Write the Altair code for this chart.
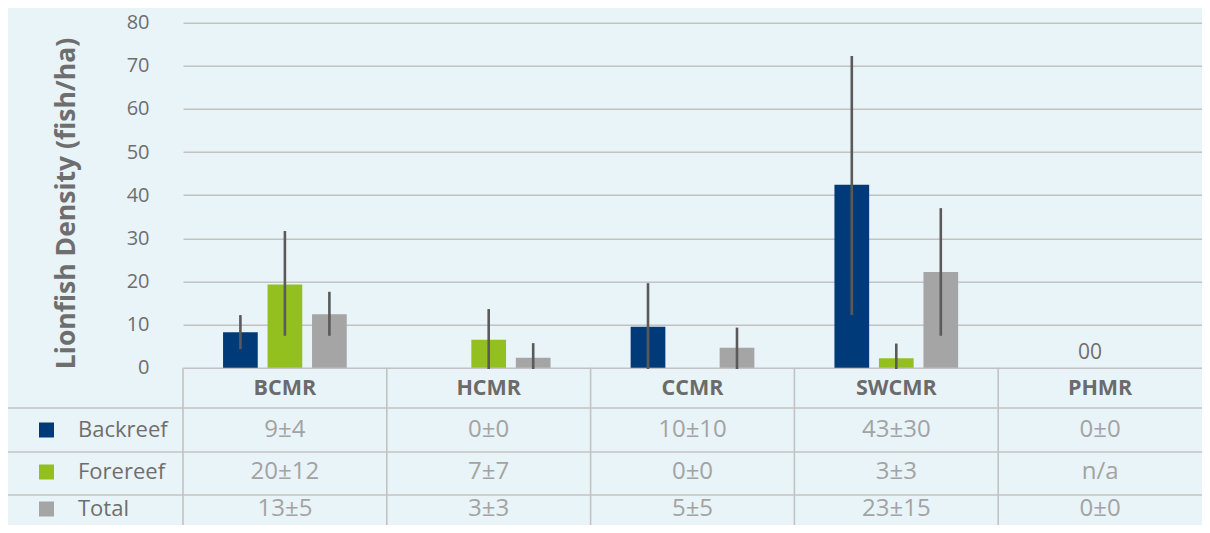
import altair as alt
import pandas as pd

# ---------------- data ----------------
categories = ["BCMR", "HCMR", "CCMR", "SWCMR", "PHMR"]
series = ["Backreef", "Forereef", "Total"]
series_colors = ["#003a78", "#93c01f", "#a5a5a5"]

backreef_mean = [8.2, 0.0, 9.5, 42.4, 0.0]
backreef_lo = [4.3, 0.0, -0.3, 12.2, 0.0]
backreef_hi = [12.2, 0.0, 19.6, 72.3, 0.0]

forereef_mean = [19.3, 6.5, 0.0, 2.2, None]
forereef_lo = [7.4, -0.3, 0.0, -0.3, None]
forereef_hi = [31.7, 13.6, 0.0, 5.6, None]

total_mean = [12.4, 2.3, 4.6, 22.2, 0.0]
total_lo = [7.4, -0.3, -0.3, 7.4, 0.0]
total_hi = [17.6, 5.7, 9.3, 37.0, 0.0]

table_backreef = ["9±4", "0±0", "10±10", "43±30", "0±0"]
table_forereef = ["20±12", "7±7", "0±0", "3±3", "n/a"]
table_total = ["13±5", "3±3", "5±5", "23±15", "0±0"]

y_ticks = [0, 10, 20, 30, 40, 50, 60, 70, 80]
phmr_label = "00"
y_title = "Lionfish Density (fish/ha)"

# ---------------- layout ----------------
PAGE_MARGIN = 8
PLOT_LEFT = 183          # screen x of plot left edge
PLOT_RIGHT = 1202
Y80_PX = 22.7            # screen y of value 80
Y0_PX = 367.7            # screen y of value 0
BOTTOM_PX = 525.0        # screen y of chart bottom
PX_PER_UNIT = (Y0_PX - Y80_PX) / 80.0
W = PLOT_RIGHT - PLOT_LEFT
H = BOTTOM_PX - Y80_PX


def val(py):
    return (Y0_PX - py) / PX_PER_UNIT


Y_MIN = val(BOTTOM_PX)
header_y = val(389)
row_y = [val(430), val(472), val(509)]
row_lines = [val(408), val(452), val(495)]

TEXT_GRAY = "#6e6e6e"
VALUE_GRAY = "#a3a3a3"
LINE_GRAY = "#c2c2c2"
FONT = "Open Sans"

# ---------------- frames ----------------
rows = []
for s, m, lo, hi in zip(series,
                        [backreef_mean, forereef_mean, total_mean],
                        [backreef_lo, forereef_lo, total_lo],
                        [backreef_hi, forereef_hi, total_hi]):
    for c, mv, l, h in zip(categories, m, lo, hi):
        if mv is None:
            continue
        rows.append({"cat": c, "series": s, "mean": mv, "lo": l, "hi": h})
df = pd.DataFrame(rows)

tab_rows = []
for ry, vals in zip(row_y, [table_backreef, table_forereef, table_total]):
    for c, v in zip(categories, vals):
        tab_rows.append({"cat": c, "ty": ry, "label": v})
tab_df = pd.DataFrame(tab_rows)

head_df = pd.DataFrame({"cat": categories, "ty": [header_y] * len(categories)})
leg_df = pd.DataFrame({"series": series, "ty": row_y})
hline_df = pd.DataFrame({"ly": row_lines})
vline_df = pd.DataFrame({"cat": categories})
phmr_df = pd.DataFrame({"cat": ["PHMR"], "v": [0.0], "label": [phmr_label]})

xscale = alt.Scale(domain=categories, paddingInner=0, paddingOuter=0)
xoff_scale = alt.Scale(domain=series, paddingInner=0.22, paddingOuter=0.9)
yscale = alt.Scale(domain=[Y_MIN, 80], nice=False, zero=False)
cscale = alt.Scale(domain=series, range=series_colors)

yaxis = alt.Axis(
    values=y_ticks, grid=True, gridColor=LINE_GRAY, gridWidth=1.6,
    domain=False, ticks=False, tickSize=0, labelPadding=34,
    labelFontSize=20, labelColor=TEXT_GRAY, labelFont=FONT,
    title=y_title, titleFontSize=26.5, titleFontWeight="bold",
    titleColor=TEXT_GRAY, titleFont=FONT, titleAngle=270,
    titleX=66 - PLOT_LEFT, titleY=203 - Y80_PX,
    titleAlign="center", titleBaseline="middle",
)

base_x = alt.X("cat:N", sort=categories, scale=xscale, axis=None)

bars = alt.Chart(df).mark_bar().encode(
    x=base_x,
    xOffset=alt.XOffset("series:N", sort=series, scale=xoff_scale),
    y=alt.Y("mean:Q", scale=yscale, axis=yaxis),
    color=alt.Color("series:N", scale=cscale, legend=None),
)

err = alt.Chart(df).mark_rule(color="#5a5a5a", strokeWidth=2.6).encode(
    x=base_x,
    xOffset=alt.XOffset("series:N", sort=series, scale=xoff_scale),
    y=alt.Y("lo:Q", scale=yscale),
    y2="hi:Q",
)

vlines = alt.Chart(vline_df).mark_rule(color=LINE_GRAY, strokeWidth=1.6).encode(
    x=alt.X("cat:N", sort=categories, scale=xscale, axis=None, bandPosition=0),
    y=alt.datum(0),
    y2=alt.value(H),
)

hlines = alt.Chart(hline_df).mark_rule(color=LINE_GRAY, strokeWidth=1.6).encode(
    y=alt.Y("ly:Q", scale=yscale),
    x=alt.value(7 - PLOT_LEFT),
    x2=alt.value(W),
)

header = alt.Chart(head_df).mark_text(
    font=FONT, fontSize=21.5, fontWeight="bold", color="#6b6b6b", baseline="middle"
).encode(
    x=base_x,
    y=alt.Y("ty:Q", scale=yscale),
    text="cat:N",
)

values = alt.Chart(tab_df).mark_text(
    font=FONT, fontSize=24, color=VALUE_GRAY, baseline="middle"
).encode(
    x=base_x,
    y=alt.Y("ty:Q", scale=yscale),
    text="label:N",
)

leg_sq = alt.Chart(leg_df).mark_square(size=225, opacity=1).encode(
    x=alt.value(46.5 - PLOT_LEFT),
    y=alt.Y("ty:Q", scale=yscale),
    color=alt.Color("series:N", scale=cscale, legend=None),
)

leg_txt = alt.Chart(leg_df).mark_text(
    font=FONT, fontSize=22, color=TEXT_GRAY, align="left", baseline="middle"
).encode(
    x=alt.value(78 - PLOT_LEFT),
    y=alt.Y("ty:Q", scale=yscale),
    text="series:N",
)

phmr = alt.Chart(phmr_df).mark_text(
    font=FONT, fontSize=21, color=TEXT_GRAY, baseline="middle", dx=-10, dy=-15
).encode(
    x=base_x,
    y=alt.Y("v:Q", scale=yscale),
    text="label:N",
)

chart = alt.layer(
    bars, err, vlines, hlines, header, values, leg_sq, leg_txt, phmr
).properties(
    width=W,
    height=H,
    autosize=alt.AutoSizeParams(type="none"),
    padding={"left": PLOT_LEFT - PAGE_MARGIN, "top": Y80_PX - PAGE_MARGIN,
             "right": 0, "bottom": 0},
    background="#e9f4f9",
).configure_view(stroke=None)

chart.save("out.html", embed_options={"renderer": "svg", "actions": False})
